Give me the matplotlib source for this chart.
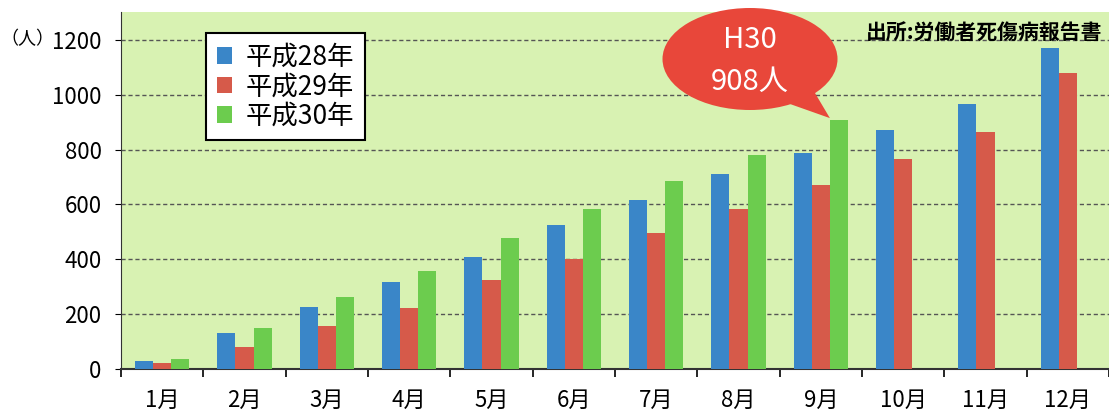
import matplotlib
matplotlib.use("Agg")
import matplotlib.pyplot as plt
from matplotlib.patches import Ellipse, Polygon
import numpy as np

plt.rcParams['font.family'] = ['Noto Sans CJK JP', 'DejaVu Sans']

months = ["1月", "2月", "3月", "4月", "5月", "6月", "7月", "8月", "9月", "10月", "11月", "12月"]
h28 = [30, 131, 225, 316, 407, 527, 617, 712, 787, 872, 966, 1172]
h29 = [22, 80, 156, 222, 323, 402, 495, 583, 672, 765, 864, 1080]
h30 = [38, 149, 262, 356, 476, 585, 686, 779, 908]
series_names = ["平成28年", "平成29年", "平成30年"]
colors = ["#3a86c8", "#d65a4a", "#6ccc4e"]

W, H = 1109, 416
fig = plt.figure(figsize=(W / 100, H / 100), dpi=100)
fig.patch.set_facecolor("white")
ax = fig.add_axes([121 / W, 1 - 369 / H, 988 / W, 357 / H])
ax.set_facecolor("#d8f2b2")

x = np.arange(len(months))
bw = 0.22
ax.bar(x - bw, h28, bw, color=colors[0], label=series_names[0], zorder=3)
ax.bar(x, h29, bw, color=colors[1], label=series_names[1], zorder=3)
ax.bar(np.arange(len(h30)) + bw, h30, bw, color=colors[2], label=series_names[2], zorder=3)

ax.set_xlim(-0.5, 11.4)
ax.set_ylim(0, 1302)
ax.set_yticks(range(0, 1201, 200))
ax.yaxis.grid(True, color="#555555", linestyle=(0, (3, 2)), linewidth=1, zorder=1)
ax.tick_params(axis="y", labelsize=16, length=4, direction="out", pad=10)

# boundary ticks between months, labels centred on each month
ax.set_xticks(np.arange(-0.5, 12, 1))
ax.set_xticklabels([])
ax.set_xticks(x, minor=True)
ax.set_xticklabels(months, minor=True)
ax.tick_params(axis="x", which="major", length=6, direction="out", width=1.2)
ax.tick_params(axis="x", which="minor", length=0, labelsize=16, pad=14)

for s in ["top", "right"]:
    ax.spines[s].set_visible(False)
ax.spines["left"].set_color("#333333")
ax.spines["bottom"].set_color("#333333")
ax.spines["bottom"].set_linewidth(1.5)

fig.text(0.0, 1 - 39 / H, "（人）", fontsize=13, va="center", ha="left")
fig.text(1102 / W, 1 - 33 / H, "出所:労働者死傷病報告書", fontsize=15,
         fontweight="bold", va="center", ha="right")

leg = ax.legend(loc="upper left", bbox_to_anchor=(206 / W, 1 - 33 / H),
                bbox_transform=fig.transFigure, borderaxespad=0,
                fancybox=False, edgecolor="black", framealpha=1,
                fontsize=19, handlelength=0.6, handleheight=0.6,
                handletextpad=0.5, labelspacing=0.1, borderpad=0.4)
leg.get_frame().set_linewidth(1.5)
leg.set_zorder(5)

# speech bubble
to_fig = fig.transFigure.inverted()
tip = to_fig.transform(ax.transData.transform((8 + bw / 2, 915)))
base1 = (790 / W, 1 - 104 / H)
base2 = (812 / W, 1 - 88 / H)
fig.patches.append(Polygon([base1, base2, tip], closed=True,
                           transform=fig.transFigure, facecolor="#e8473a",
                           edgecolor="none", zorder=6))
fig.patches.append(Ellipse((750 / W, 1 - 59 / H), 175 / W, 102 / H,
                           transform=fig.transFigure, facecolor="#e8473a",
                           edgecolor="none", zorder=6))
fig.text(750 / W, 1 - 40 / H, "H30", color="white", fontsize=21,
         ha="center", va="center", zorder=7)
fig.text(750 / W, 1 - 82 / H, "908人", color="white", fontsize=21,
         ha="center", va="center", zorder=7)

fig.savefig("out.png", dpi=100)
